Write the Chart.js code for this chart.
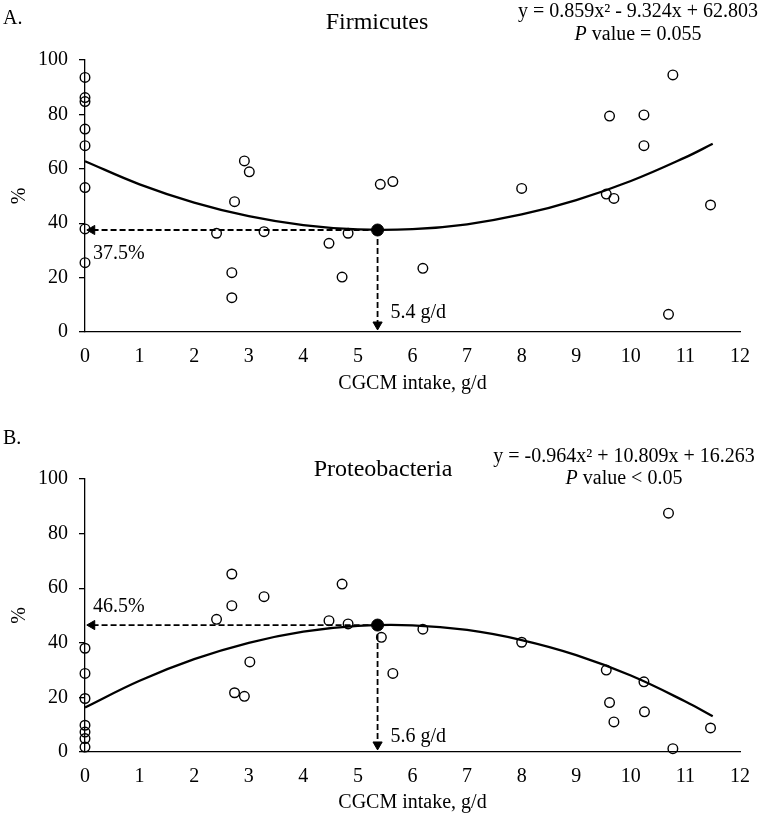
<!DOCTYPE html>
<html>
<head>
<meta charset="utf-8">
<script src="https://cdn.jsdelivr.net/npm/chart.js@4.4.1/dist/chart.umd.min.js"></script>
<style>
  body { margin: 0; background: #fff; }
  .panel { position: absolute; left: 0; width: 764px; }
</style>
</head>
<body>
<div class="panel" style="top:0;height:400px"><canvas id="chartA" width="764" height="400"></canvas></div>
<div class="panel" style="top:400px;height:419px"><canvas id="chartB" width="764" height="419"></canvas></div>
<script>
// Firmicutes (panel A)
const firmX = [0, 0, 0, 0, 0, 0, 0, 0, 2.41, 2.69, 2.69, 2.74, 2.92, 3.01, 3.28, 4.47, 4.71, 4.82, 5.41, 5.64, 6.19, 8.0, 9.55, 9.61, 9.69, 10.24, 10.24, 10.69, 10.77, 11.46];
const firmY = [93.6, 86.2, 84.7, 74.6, 68.5, 53.1, 37.9, 25.5, 36.3, 21.8, 12.6, 47.9, 62.9, 58.9, 36.9, 32.6, 20.2, 36.3, 54.3, 55.3, 23.4, 52.8, 50.7, 79.4, 49.1, 79.8, 68.5, 6.5, 94.5, 46.7];
// Proteobacteria (panel B)
const proteoX = [0, 0, 0, 0, 0, 0, 0, 2.41, 2.69, 2.69, 2.74, 2.92, 3.02, 3.28, 4.47, 4.71, 4.82, 5.43, 5.64, 6.19, 8.0, 9.55, 9.61, 9.69, 10.24, 10.25, 10.69, 10.77, 11.46];
const proteoY = [38.0, 28.8, 19.6, 9.8, 7.3, 4.9, 1.8, 48.6, 65.2, 53.6, 21.7, 20.4, 33.0, 56.9, 48.1, 61.5, 46.9, 42.0, 28.8, 45.0, 40.2, 30.0, 18.1, 11.0, 25.7, 14.7, 87.5, 1.2, 8.8];

// fitted curves
const curveX = [0, 1, 2, 3, 4, 5, 6, 7, 8, 9, 10, 11, 11.5];
const firmCurve = [62.8, 54.3, 47.6, 42.6, 39.3, 37.7, 37.8, 39.6, 43.2, 48.5, 55.5, 64.2, 69.2];
const proteoCurve = [16.3, 26.1, 34.0, 40.0, 44.1, 46.2, 46.4, 44.7, 41.0, 35.5, 28.0, 18.5, 13.1];

// optimum points
const firmOpt = [5.36, 37.5];
const proteoOpt = [5.36, 46.5];

const xTicks = [0, 12, 1];
const yTicks = [0, 100, 20];

const serif = "'Liberation Serif', 'Times New Roman', serif";
Chart.defaults.font.family = serif;
Chart.defaults.font.size = 20;
Chart.defaults.color = '#000';

const pairs = (xs, ys) => xs.map((v, i) => ({ x: v, y: ys[i] }));

// texte, titre, equation, etiquettes des fleches
const notesPlugin = {
  id: 'notes',
  afterDraw(chart, args, o) {
    const ctx = chart.ctx;
    const xs = chart.scales.x, ys = chart.scales.y;
    ctx.save();
    ctx.fillStyle = '#000';
    ctx.textBaseline = 'middle';

    ctx.font = '20px ' + serif;
    ctx.textAlign = 'left';
    ctx.fillText(o.panel, 3, o.panelY);

    ctx.font = '24px ' + serif;
    ctx.textAlign = 'center';
    ctx.fillText(o.title, o.titleX, o.titleY);

    ctx.font = '20px ' + serif;
    ctx.fillText(o.equation, o.eqX, o.eqY);

    // P en italique
    const rest = ' value ' + o.pValue;
    ctx.font = 'italic 20px ' + serif;
    const wP = ctx.measureText('P').width;
    ctx.font = '20px ' + serif;
    const wR = ctx.measureText(rest).width;
    const left = o.eqX - (wP + wR) / 2;
    ctx.textAlign = 'left';
    ctx.font = 'italic 20px ' + serif;
    ctx.fillText('P', left, o.pY);
    ctx.font = '20px ' + serif;
    ctx.fillText(rest, left + wP, o.pY);

    const vx = xs.getPixelForValue(o.opt[0]);
    const vy = ys.getPixelForValue(o.opt[1]);
    ctx.fillText(o.yLabel, xs.getPixelForValue(0) + 8, vy + o.yLabelDy);
    ctx.fillText(o.xLabel, vx + 13, ys.getPixelForValue(0) - o.xLabelDy);
    ctx.restore();
  }
};

function makeChart(id, px, py, curve, opt, topPad, xHeight, notes) {
  const ctx = document.getElementById(id).getContext('2d');
  return new Chart(ctx, {
    type: 'scatter',
    data: {
      datasets: [
        {
          type: 'line',
          data: pairs(curveX, curve),
          borderColor: '#000',
          borderWidth: 2.3,
          pointRadius: 0,
          tension: 0.4,
          fill: false
        },
        {
          type: 'line',
          data: [{ x: opt[0], y: opt[1] }, { x: 0.13, y: opt[1] }],
          borderColor: '#000',
          borderWidth: 1.8,
          borderDash: [6, 3],
          pointRadius: [0, 5.3],
          pointStyle: 'triangle',
          pointRotation: [0, 270],
          pointBackgroundColor: '#000',
          pointBorderColor: '#000',
          pointBorderWidth: 1
        },
        {
          type: 'line',
          data: [{ x: opt[0], y: opt[1] }, { x: opt[0], y: 2.7 }],
          borderColor: '#000',
          borderWidth: 1.8,
          borderDash: [6, 3],
          pointRadius: [0, 5.3],
          pointStyle: 'triangle',
          pointRotation: [0, 180],
          pointBackgroundColor: '#000',
          pointBorderColor: '#000',
          pointBorderWidth: 1
        },
        {
          data: pairs(px, py),
          pointRadius: 4.8,
          pointBorderWidth: 1.4,
          pointBorderColor: '#000',
          pointBackgroundColor: 'rgba(0,0,0,0)'
        },
        {
          data: [{ x: opt[0], y: opt[1] }],
          pointRadius: 6,
          pointBorderColor: '#000',
          pointBackgroundColor: '#000'
        }
      ]
    },
    options: {
      responsive: false,
      animation: false,
      clip: false,
      layout: { padding: { top: topPad, right: 24, left: 0, bottom: 0 } },
      plugins: {
        legend: { display: false },
        tooltip: { enabled: false },
        notes: notes
      },
      scales: {
        x: {
          type: 'linear',
          min: xTicks[0], max: xTicks[1],
          ticks: { stepSize: xTicks[2], padding: 13 },
          grid: { display: false, drawTicks: false },
          border: { display: true, color: '#000', width: 1.3 },
          title: { display: true, text: 'CGCM intake, g/d', padding: { top: 4, bottom: 4 } },
          afterFit: s => { s.height = xHeight; }
        },
        y: {
          min: yTicks[0], max: yTicks[1],
          ticks: { stepSize: yTicks[2], padding: 11 },
          grid: { drawOnChartArea: false, drawTicks: true, tickLength: 6, color: '#000', lineWidth: 1.3 },
          border: { display: true, color: '#000', width: 1.3 },
          title: { display: true, text: '%', padding: { top: 8, bottom: 0 } },
          afterFit: s => { s.width = 85; }
        }
      }
    },
    plugins: [notesPlugin]
  });
}

makeChart('chartA', firmX, firmY, firmCurve, firmOpt, 60, 68, {
  panel: 'A.', panelY: 19,
  title: 'Firmicutes', titleX: 377, titleY: 23,
  equation: 'y = 0.859x\u00B2 - 9.324x + 62.803', eqX: 638, eqY: 12,
  pValue: '= 0.055', pY: 35,
  opt: firmOpt, yLabel: '37.5%', yLabelDy: 24, xLabel: '5.4 g/d', xLabelDy: 19
});

makeChart('chartB', proteoX, proteoY, proteoCurve, proteoOpt, 79, 67, {
  panel: 'B.', panelY: 39,
  title: 'Proteobacteria', titleX: 383, titleY: 70,
  equation: 'y = -0.964x\u00B2 + 10.809x + 16.263', eqX: 624, eqY: 57,
  pValue: '< 0.05', pY: 79,
  opt: proteoOpt, yLabel: '46.5%', yLabelDy: -18, xLabel: '5.6 g/d', xLabelDy: 15
});
</script>
</body>
</html>
